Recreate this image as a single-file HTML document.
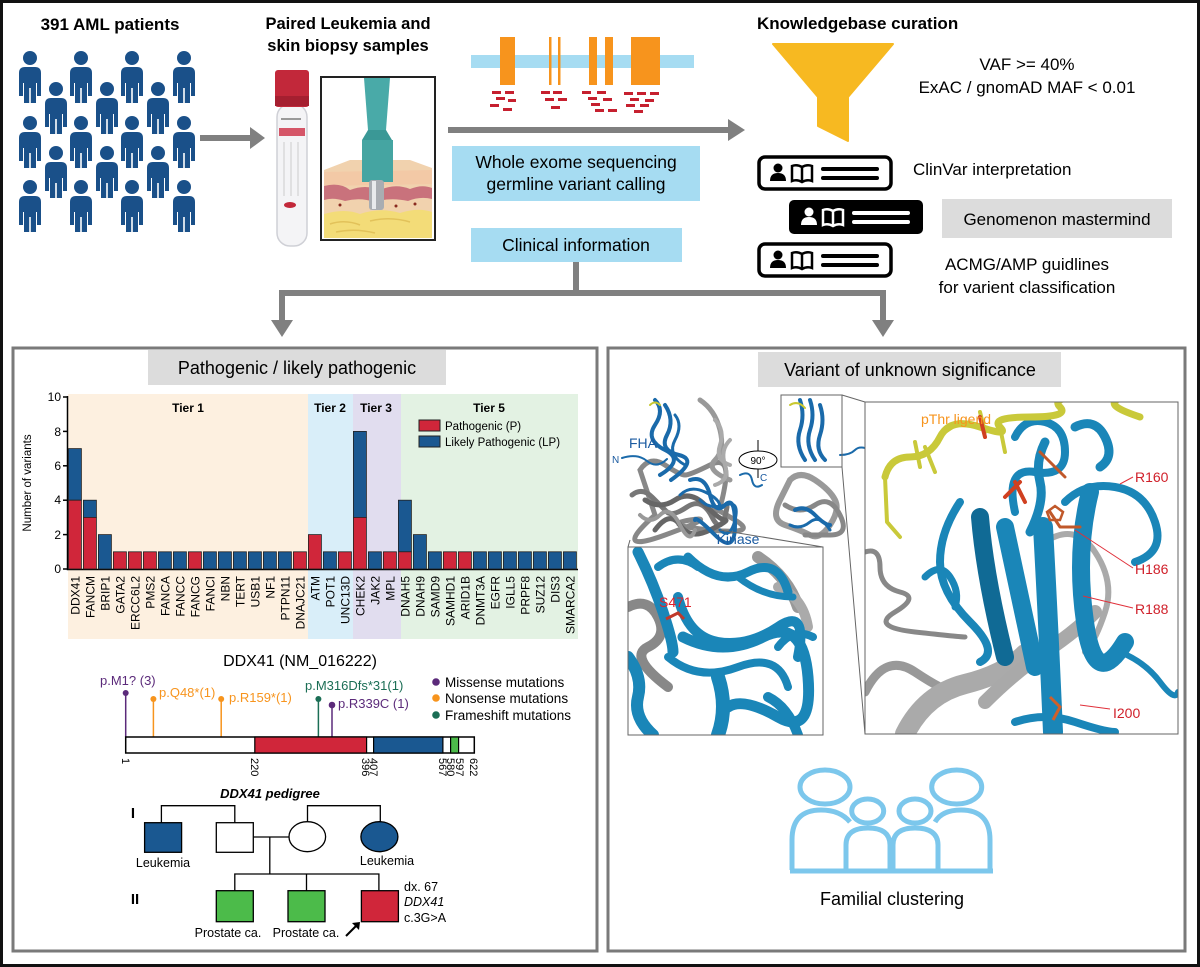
<!DOCTYPE html>
<html><head><meta charset="utf-8"><style>
html,body{margin:0;padding:0;background:#fff}
svg{display:block}
text{font-family:"Liberation Sans",sans-serif}
</style></head><body>
<svg width="1200" height="967" viewBox="0 0 1200 967" xmlns="http://www.w3.org/2000/svg">
<rect x="1.5" y="1.5" width="1197" height="964" fill="#fff" stroke="#111" stroke-width="3"/>

<text x="110" y="30" font-size="17" font-weight="bold" text-anchor="middle">391 AML patients</text>
<defs>
<g id="pp" fill="#1a5089">
<circle cx="0" cy="0" r="7"/>
<path d="M-11,15 Q-11,9 -5,9 L5,9 Q11,9 11,15 L11,38 L7,38 L7,25 L6,25 L6,45 L0.8,45 L0.8,30 L-0.8,30 L-0.8,45 L-6,45 L-6,25 L-7,25 L-7,38 L-11,38 Z"/>
</g>
<g id="card">
<rect x="0" y="0" width="132" height="32" rx="6" fill="#fff" stroke="#000" stroke-width="3.5"/>
<circle cx="19" cy="11" r="4.5" fill="#000"/><path d="M11,24 Q11,16 19,16 Q27,16 27,24 Z" fill="#000"/>
<path d="M33,9 Q38,7 43,10 Q48,7 53,9 L53,24 Q48,22 43,25 Q38,22 33,24 Z M43,10 L43,25" fill="none" stroke="#000" stroke-width="2.5"/>
<rect x="62" y="10" width="58" height="4" rx="2" fill="#000"/><rect x="62" y="19" width="58" height="4" rx="2" fill="#000"/>
</g>
<g id="cardb">
<rect x="0" y="0" width="134" height="34" rx="5" fill="#000"/>
<circle cx="20" cy="12" r="4.5" fill="#fff"/><path d="M12,25 Q12,17 20,17 Q28,17 28,25 Z" fill="#fff"/>
<path d="M34,10 Q39,8 44,11 Q49,8 54,10 L54,25 Q49,23 44,26 Q39,23 34,25 Z M44,11 L44,26" fill="none" stroke="#fff" stroke-width="2.5"/>
<rect x="63" y="11" width="58" height="4" rx="2" fill="#fff"/><rect x="63" y="20" width="58" height="4" rx="2" fill="#fff"/>
</g>
</defs>
<use href="#pp" x="30" y="58"/><use href="#pp" x="30" y="123"/><use href="#pp" x="30" y="187"/>
<use href="#pp" x="81" y="58"/><use href="#pp" x="81" y="123"/><use href="#pp" x="81" y="187"/>
<use href="#pp" x="132" y="58"/><use href="#pp" x="132" y="123"/><use href="#pp" x="132" y="187"/>
<use href="#pp" x="184" y="58"/><use href="#pp" x="184" y="123"/><use href="#pp" x="184" y="187"/>
<use href="#pp" x="56" y="89"/><use href="#pp" x="56" y="153"/>
<use href="#pp" x="107" y="89"/><use href="#pp" x="107" y="153"/>
<use href="#pp" x="158" y="89"/><use href="#pp" x="158" y="153"/>

<path d="M200,138 L252,138" stroke="#808080" stroke-width="6"/>
<path d="M250,127 L265,138 L250,149 Z" fill="#808080"/>

<text x="348" y="29" font-size="16.5" font-weight="bold" text-anchor="middle">Paired Leukemia and</text>
<text x="348" y="51" font-size="16.5" font-weight="bold" text-anchor="middle">skin biopsy samples</text>
<rect x="277" y="104" width="30" height="142" rx="13" fill="#f4f4f6" stroke="#cfd0d6" stroke-width="1.5"/>
<rect x="275" y="70" width="34" height="37" rx="3" fill="#c2283a"/>
<rect x="275" y="96" width="34" height="10" fill="#a51f30"/>
<rect x="279" y="128" width="26" height="8" fill="#cf3a4f" opacity="0.85"/>
<rect x="281" y="118" width="20" height="2" fill="#999"/>
<line x1="284" y1="142" x2="284" y2="196" stroke="#ccc"/>
<line x1="291" y1="142" x2="291" y2="196" stroke="#ccc"/>
<line x1="298" y1="142" x2="298" y2="196" stroke="#ccc"/>
<ellipse cx="290" cy="205" rx="6" ry="3" fill="#c2283a"/>
<rect x="321" y="77" width="114" height="163" fill="#fff" stroke="#222" stroke-width="2"/>
<path d="M324,170 L350,160 L410,160 L432,168 L432,238 L324,238 Z" fill="#f1d2ae"/>
<path d="M324,172 L432,170 L432,184 L324,186 Z" fill="#f3c9a6"/>
<path d="M324,186 Q340,182 350,190 Q365,184 380,190 Q395,183 410,189 Q422,184 432,188 L432,199 Q420,196 408,201 Q390,197 375,202 Q360,197 345,201 Q333,197 324,200 Z" fill="#c9727c"/>
<path d="M324,214 Q345,208 360,214 Q380,207 400,213 Q418,207 432,212 L432,238 L324,238 Z" fill="#f3dc78"/>
<path d="M330,224 Q345,219 360,225 M370,221 Q390,216 410,222 M336,232 Q355,228 375,233" stroke="#e2c25a" fill="none" stroke-width="1.5"/>
<circle cx="340" cy="205" r="1.5" fill="#8a2a20"/><circle cx="396" cy="206" r="1.5" fill="#8a2a20"/><circle cx="415" cy="204" r="1.5" fill="#8a2a20"/>
<path d="M364,78 L390,78 L386,130 L368,130 Z" fill="#49aaa8"/>
<path d="M368,130 L386,130 L392,140 L362,140 Z" fill="#3a9896"/>
<rect x="362" y="140" width="31" height="42" fill="#45a5a2"/>
<rect x="369" y="180" width="15" height="30" rx="3" fill="#a9adb2"/>
<rect x="372" y="181" width="4" height="28" fill="#e8eaec"/>

<rect x="471" y="55" width="223" height="13" fill="#a6dcf2"/>
<g fill="#f7941d">
<rect x="500" y="37" width="15" height="48"/><rect x="549" y="37" width="2.5" height="48"/><rect x="558" y="37" width="2.5" height="48"/>
<rect x="589" y="37" width="8" height="48"/><rect x="605" y="37" width="8" height="48"/><rect x="631" y="37" width="29" height="48"/>
</g>
<g fill="#c6202f">
<rect x="492" y="91" width="9" height="3"/><rect x="505" y="91" width="9" height="3"/><rect x="496" y="97" width="9" height="3"/><rect x="508" y="99" width="8" height="3"/><rect x="490" y="104" width="9" height="3"/><rect x="503" y="108" width="9" height="3"/>
<rect x="541" y="91" width="9" height="3"/><rect x="553" y="91" width="9" height="3"/><rect x="545" y="98" width="9" height="3"/><rect x="558" y="98" width="9" height="3"/><rect x="551" y="106" width="9" height="3"/>
<rect x="582" y="91" width="9" height="3"/><rect x="597" y="91" width="9" height="3"/><rect x="588" y="97" width="9" height="3"/><rect x="603" y="98" width="9" height="3"/><rect x="591" y="103" width="9" height="3"/><rect x="595" y="109" width="9" height="3"/><rect x="608" y="109" width="9" height="3"/>
<rect x="624" y="92" width="9" height="3"/><rect x="637" y="92" width="9" height="3"/><rect x="650" y="92" width="9" height="3"/><rect x="630" y="98" width="9" height="3"/><rect x="645" y="99" width="9" height="3"/><rect x="626" y="104" width="9" height="3"/><rect x="640" y="104" width="9" height="3"/><rect x="634" y="110" width="9" height="3"/>
</g>
<path d="M448,130 L730,130" stroke="#808080" stroke-width="6"/>
<path d="M728,119 L745,130 L728,141 Z" fill="#808080"/>
<rect x="452" y="146" width="248" height="55" fill="#a6dcf2"/>
<text x="576" y="168" font-size="17.5" text-anchor="middle">Whole exome sequencing</text>
<text x="576" y="190" font-size="17.5" text-anchor="middle">germline variant calling</text>
<rect x="471" y="228" width="211" height="34" fill="#a6dcf2"/>
<text x="576" y="251" font-size="17.5" text-anchor="middle">Clinical information</text>

<path d="M576,262 L576,293 M279,293 L886,293 M282,291 L282,322 M883,291 L883,322" stroke="#808080" stroke-width="6" fill="none"/>
<path d="M271,320 L293,320 L282,337 Z" fill="#808080"/>
<path d="M872,320 L894,320 L883,337 Z" fill="#808080"/>

<text x="757" y="29" font-size="17" font-weight="bold">Knowledgebase curation</text>
<path d="M773,44 L893,44 L848,97 L848,141 L818,126 L818,97 Z" fill="#f7b921" stroke="#f7b921" stroke-width="2" stroke-linejoin="round"/>
<text x="1027" y="70" font-size="17" text-anchor="middle">VAF &gt;= 40%</text>
<text x="1027" y="93" font-size="17" text-anchor="middle">ExAC / gnomAD MAF &lt; 0.01</text>
<use href="#card" x="759" y="157"/>
<use href="#cardb" x="789" y="200"/>
<use href="#card" x="759" y="244"/>
<text x="913" y="175" font-size="17">ClinVar interpretation</text>
<rect x="942" y="199" width="230" height="39" fill="#dcdcdc"/>
<text x="1057" y="225" font-size="17" text-anchor="middle">Genomenon mastermind</text>
<text x="1027" y="270" font-size="17" text-anchor="middle">ACMG/AMP guidlines</text>
<text x="1027" y="293" font-size="17" text-anchor="middle">for varient classification</text>

<rect x="13" y="348" width="584" height="603" fill="none" stroke="#7a7a7a" stroke-width="3"/>
<rect x="608" y="348" width="577" height="603" fill="none" stroke="#7a7a7a" stroke-width="3"/>

<rect x="148" y="350" width="298" height="35" fill="#dcdcdc"/>
<text x="297" y="374" font-size="18" text-anchor="middle">Pathogenic / likely pathogenic</text>
<rect x="758" y="352" width="303" height="35" fill="#dcdcdc"/>
<text x="910" y="376" font-size="18" text-anchor="middle">Variant of unknown significance</text>

<rect x="68" y="394" width="240" height="245" fill="#fdf0e0"/>
<rect x="308" y="394" width="45" height="245" fill="#d9eef9"/>
<rect x="353" y="394" width="48" height="245" fill="#e1ddef"/>
<rect x="401" y="394" width="177" height="245" fill="#e3f2e3"/>
<g font-size="12" font-weight="bold" text-anchor="middle">
<text x="188" y="412">Tier 1</text><text x="330" y="412">Tier 2</text><text x="376" y="412">Tier 3</text><text x="489" y="412">Tier 5</text>
</g>
<path d="M67.5,396 L67.5,569.5 L578,569.5" stroke="#000" stroke-width="1.5" fill="none"/>
<g stroke="#000" stroke-width="1.5">
<line x1="63" y1="397" x2="68" y2="397"/><line x1="63" y1="431.4" x2="68" y2="431.4"/><line x1="63" y1="465.8" x2="68" y2="465.8"/><line x1="63" y1="500.2" x2="68" y2="500.2"/><line x1="63" y1="534.6" x2="68" y2="534.6"/><line x1="63" y1="569" x2="68" y2="569"/>
</g>
<g font-size="12" text-anchor="end">
<text x="61" y="401">10</text><text x="61" y="436">8</text><text x="61" y="470">6</text><text x="61" y="504">4</text><text x="61" y="539">2</text><text x="61" y="573">0</text>
</g>
<text transform="translate(31,483) rotate(-90)" font-size="11.5" text-anchor="middle">Number of variants</text>
<rect x="419" y="420" width="21" height="11" fill="#d0263a" stroke="#222"/>
<text x="445" y="430" font-size="11.5">Pathogenic (P)</text>
<rect x="419" y="436" width="21" height="11" fill="#1a5891" stroke="#222"/>
<text x="445" y="446" font-size="11.5">Likely Pathogenic (LP)</text>
<g stroke="#222" stroke-width="0.8">
<g fill="#1a5891">
<rect x="68.4" y="448.6" width="13" height="51.6"/>
<rect x="83.4" y="500.2" width="13" height="17.2"/>
<rect x="98.4" y="534.6" width="13" height="34.4"/>
<rect x="158.4" y="551.8" width="13" height="17.2"/><rect x="173.4" y="551.8" width="13" height="17.2"/>
<rect x="203.4" y="551.8" width="13" height="17.2"/><rect x="218.4" y="551.8" width="13" height="17.2"/><rect x="233.4" y="551.8" width="13" height="17.2"/><rect x="248.4" y="551.8" width="13" height="17.2"/><rect x="263.4" y="551.8" width="13" height="17.2"/><rect x="278.4" y="551.8" width="13" height="17.2"/>
<rect x="323.4" y="551.8" width="13" height="17.2"/>
<rect x="353.4" y="431.4" width="13" height="86"/>
<rect x="368.4" y="551.8" width="13" height="17.2"/>
<rect x="398.4" y="500.2" width="13" height="51.6"/>
<rect x="413.4" y="534.6" width="13" height="34.4"/>
<rect x="428.4" y="551.8" width="13" height="17.2"/>
<rect x="473.4" y="551.8" width="13" height="17.2"/><rect x="488.4" y="551.8" width="13" height="17.2"/><rect x="503.4" y="551.8" width="13" height="17.2"/><rect x="518.4" y="551.8" width="13" height="17.2"/><rect x="533.4" y="551.8" width="13" height="17.2"/><rect x="548.4" y="551.8" width="13" height="17.2"/><rect x="563.4" y="551.8" width="13" height="17.2"/>
</g>
<g fill="#d0263a">
<rect x="68.4" y="500.2" width="13" height="68.8"/>
<rect x="83.4" y="517.4" width="13" height="51.6"/>
<rect x="113.4" y="551.8" width="13" height="17.2"/><rect x="128.4" y="551.8" width="13" height="17.2"/><rect x="143.4" y="551.8" width="13" height="17.2"/>
<rect x="188.4" y="551.8" width="13" height="17.2"/>
<rect x="293.4" y="551.8" width="13" height="17.2"/>
<rect x="308.4" y="534.6" width="13" height="34.4"/>
<rect x="338.4" y="551.8" width="13" height="17.2"/>
<rect x="353.4" y="517.4" width="13" height="51.6"/>
<rect x="383.4" y="551.8" width="13" height="17.2"/>
<rect x="398.4" y="551.8" width="13" height="17.2"/>
<rect x="443.4" y="551.8" width="13" height="17.2"/><rect x="458.4" y="551.8" width="13" height="17.2"/>
</g>
</g>
<g font-size="12" text-anchor="end">
<text transform="translate(79.4,576) rotate(-90)">DDX41</text>
<text transform="translate(94.4,576) rotate(-90)">FANCM</text>
<text transform="translate(109.4,576) rotate(-90)">BRIP1</text>
<text transform="translate(124.4,576) rotate(-90)">GATA2</text>
<text transform="translate(139.4,576) rotate(-90)">ERCC6L2</text>
<text transform="translate(154.4,576) rotate(-90)">PMS2</text>
<text transform="translate(169.4,576) rotate(-90)">FANCA</text>
<text transform="translate(184.4,576) rotate(-90)">FANCC</text>
<text transform="translate(199.4,576) rotate(-90)">FANCG</text>
<text transform="translate(214.4,576) rotate(-90)">FANCI</text>
<text transform="translate(229.4,576) rotate(-90)">NBN</text>
<text transform="translate(244.4,576) rotate(-90)">TERT</text>
<text transform="translate(259.4,576) rotate(-90)">USB1</text>
<text transform="translate(274.4,576) rotate(-90)">NF1</text>
<text transform="translate(289.4,576) rotate(-90)">PTPN11</text>
<text transform="translate(304.4,576) rotate(-90)">DNAJC21</text>
<text transform="translate(319.4,576) rotate(-90)">ATM</text>
<text transform="translate(334.4,576) rotate(-90)">POT1</text>
<text transform="translate(349.4,576) rotate(-90)">UNC13D</text>
<text transform="translate(364.4,576) rotate(-90)">CHEK2</text>
<text transform="translate(379.4,576) rotate(-90)">JAK2</text>
<text transform="translate(394.4,576) rotate(-90)">MPL</text>
<text transform="translate(409.4,576) rotate(-90)">DNAH5</text>
<text transform="translate(424.4,576) rotate(-90)">DNAH9</text>
<text transform="translate(439.4,576) rotate(-90)">SAMD9</text>
<text transform="translate(454.4,576) rotate(-90)">SAMHD1</text>
<text transform="translate(469.4,576) rotate(-90)">ARID1B</text>
<text transform="translate(484.4,576) rotate(-90)">DNMT3A</text>
<text transform="translate(499.4,576) rotate(-90)">EGFR</text>
<text transform="translate(514.4,576) rotate(-90)">IGLL5</text>
<text transform="translate(529.4,576) rotate(-90)">PRPF8</text>
<text transform="translate(544.4,576) rotate(-90)">SUZ12</text>
<text transform="translate(559.4,576) rotate(-90)">DIS3</text>
<text transform="translate(574.4,576) rotate(-90)">SMARCA2</text>
</g>

<text x="300" y="666" font-size="16" text-anchor="middle">DDX41 (NM_016222)</text>
<g stroke-width="1.5">
<line x1="125.7" y1="693" x2="125.7" y2="737" stroke="#5b2a7a"/><circle cx="125.7" cy="693" r="3" fill="#5b2a7a"/>
<line x1="153.4" y1="699" x2="153.4" y2="737" stroke="#f7941d"/><circle cx="153.4" cy="699" r="3" fill="#f7941d"/>
<line x1="221.2" y1="699" x2="221.2" y2="737" stroke="#f7941d"/><circle cx="221.2" cy="699" r="3" fill="#f7941d"/>
<line x1="318.4" y1="699" x2="318.4" y2="737" stroke="#1b6e55"/><circle cx="318.4" cy="699" r="3" fill="#1b6e55"/>
<line x1="332" y1="705" x2="332" y2="737" stroke="#5b2a7a"/><circle cx="332" cy="705" r="3.3" fill="#5b2a7a"/>
</g>
<g font-size="13">
<text x="100" y="685" fill="#5b2a7a">p.M1? (3)</text>
<text x="159" y="697" fill="#f7941d">p.Q48*(1)</text>
<text x="229" y="702" fill="#f7941d">p.R159*(1)</text>
<text x="305" y="690" fill="#1b6e55">p.M316Dfs*31(1)</text>
<text x="338" y="708" fill="#5b2a7a">p.R339C (1)</text>
</g>
<circle cx="436" cy="682" r="3.8" fill="#5b2a7a"/><circle cx="436" cy="698" r="3.8" fill="#f7941d"/><circle cx="436" cy="715" r="3.8" fill="#1b6e55"/>
<g font-size="13.5"><text x="445" y="687">Missense mutations</text><text x="445" y="703">Nonsense mutations</text><text x="445" y="720">Frameshift mutations</text></g>
<rect x="125.7" y="737" width="348.6" height="16" fill="#fff" stroke="#000" stroke-width="1.5"/>
<rect x="254.8" y="737" width="111.8" height="16" fill="#d0263a" stroke="#000" stroke-width="1.2"/>
<rect x="373.6" y="737" width="69.3" height="16" fill="#1a5891" stroke="#000" stroke-width="1.2"/>
<rect x="450.6" y="737" width="8" height="16" fill="#4cbb4a" stroke="#000" stroke-width="1.2"/>
<g font-size="11" >
<text transform="translate(122,758) rotate(90)">1</text>
<text transform="translate(251,758) rotate(90)">220</text>
<text transform="translate(362,758) rotate(90)">396</text>
<text transform="translate(370,758) rotate(90)">407</text>
<text transform="translate(439,758) rotate(90)">567</text>
<text transform="translate(447,758) rotate(90)">580</text>
<text transform="translate(456,758) rotate(90)">597</text>
<text transform="translate(470,758) rotate(90)">622</text>
</g>

<text x="270" y="798" font-size="13" font-weight="bold" font-style="italic" text-anchor="middle">DDX41 pedigree</text>
<text x="133" y="818" font-size="15" font-weight="bold" text-anchor="middle">I</text>
<text x="135" y="904" font-size="15" font-weight="bold" text-anchor="middle">II</text>
<g stroke="#000" stroke-width="1.3" fill="none">
<path d="M161.4,823 L161.4,805.7 L234.8,805.7 L234.8,823"/>
<path d="M307.5,822 L307.5,805.7 L380.3,805.7 L380.3,822"/>
<path d="M253.4,837 L289,837 M269.8,837 L269.8,874 M234.8,891 L234.8,874 L378.9,874 L378.9,891 M306.5,874 L306.5,891"/>
</g>
<rect x="144.6" y="822.7" width="37" height="29.6" fill="#1a5891" stroke="#000" stroke-width="1.3"/>
<rect x="216.3" y="822.7" width="37" height="29.6" fill="#fff" stroke="#000" stroke-width="1.3"/>
<ellipse cx="307.3" cy="836.7" rx="18.3" ry="15" fill="#fff" stroke="#000" stroke-width="1.3"/>
<ellipse cx="379.4" cy="836.7" rx="18.5" ry="15" fill="#1a5891" stroke="#000" stroke-width="1.3"/>
<rect x="216.3" y="890.7" width="37" height="31" fill="#4cbb4a" stroke="#000" stroke-width="1.3"/>
<rect x="288" y="890.7" width="37" height="31" fill="#4cbb4a" stroke="#000" stroke-width="1.3"/>
<rect x="361.4" y="890.7" width="37" height="31" fill="#d0263a" stroke="#000" stroke-width="1.3"/>
<g font-size="12.5" text-anchor="middle">
<text x="163" y="867">Leukemia</text><text x="387" y="865">Leukemia</text>
<text x="228" y="937">Prostate ca.</text><text x="306" y="937">Prostate ca.</text>
</g>
<path d="M346,936 L357,925" stroke="#000" stroke-width="2"/><path d="M352,923 L360,922 L359,930 Z" fill="#000"/>
<g font-size="12.5"><text x="404" y="891">dx. 67</text><text x="404" y="906" font-style="italic">DDX41</text><text x="404" y="922">c.3G&gt;A</text></g>

<!-- overview left (denser) -->
<g fill="none" stroke-linecap="round">
<path d="M640,470 q10,-15 25,-5 t20,10 t25,-10 t15,20 t-10,25 t20,10 t-25,10 t-20,-10 t-25,15 t-10,-20 z" stroke="#888" stroke-width="5"/>
<path d="M632,495 q10,-8 20,2 t15,15 t20,-5 t25,10 t15,-10" stroke="#777" stroke-width="5"/>
<path d="M645,500 q15,10 30,0 t30,5 t20,15 t-15,10 t-30,-5 t-25,5" stroke="#666" stroke-width="5"/>
<path d="M640,515 q10,10 20,0 t20,10 t15,5" stroke="#999" stroke-width="4"/>
<path d="M700,400 q15,10 20,30 t-5,30 t15,20" stroke="#999" stroke-width="5"/>
<path d="M715,420 q10,10 5,25 t10,20" stroke="#aaa" stroke-width="4"/>
<path d="M730,440 q-10,10 -5,25 t-10,20" stroke="#aaa" stroke-width="4"/>
<path d="M655,400 q10,10 0,25 t10,25 t-5,25" stroke="#1a6aaa" stroke-width="4"/>
<path d="M665,405 q10,15 2,30 t12,20 t-8,25" stroke="#1a6aaa" stroke-width="4"/>
<path d="M675,415 q8,10 0,25 t10,25" stroke="#1a6aaa" stroke-width="3"/>
<path d="M690,480 q15,-5 20,15 t15,10 t10,20 t-20,10 t-20,-15" stroke="#1a6aaa" stroke-width="4"/>
<path d="M700,500 q10,10 25,5 t10,15 t-15,10" stroke="#1a6aaa" stroke-width="3"/>
<path d="M680,495 q10,-10 25,-3 t15,15" stroke="#1a6aaa" stroke-width="3"/>
<path d="M622,458 q15,-5 25,3 t20,-2" stroke="#1a6aaa" stroke-width="2"/>
<path d="M740,475 q10,-5 12,5 t10,5" stroke="#1a6aaa" stroke-width="2"/>
<path d="M650,405 q5,-5 10,0" stroke="#c8c830" stroke-width="2"/>
</g>
<text x="629" y="448" font-size="14" fill="#1a5aa0">FHA</text>
<text x="612" y="463" font-size="10" fill="#1a5aa0">N</text>
<text x="760" y="481" font-size="10" fill="#1a5aa0">C</text>
<text x="738" y="544" font-size="14" fill="#1a5aa0" text-anchor="middle">Kinase</text>
<ellipse cx="758" cy="460" rx="19" ry="9" fill="#fff" stroke="#000"/>
<line x1="758" y1="440" x2="758" y2="451" stroke="#000"/><line x1="758" y1="469" x2="758" y2="478" stroke="#000"/>
<text x="758" y="464" font-size="10" text-anchor="middle">90°</text>
<g fill="none" stroke-linecap="round">
<path d="M790,480 q10,-10 25,0 t20,20 t-5,25 t-20,10 t-25,-10 t-5,-25 z" stroke="#999" stroke-width="6"/>
<path d="M785,505 q15,10 30,0 t25,10 t-10,20 t-25,0" stroke="#888" stroke-width="5"/>
<path d="M795,510 q10,-5 20,5 t15,10" stroke="#1a6aaa" stroke-width="4"/>
<path d="M790,525 q10,5 20,-3 t20,8" stroke="#1a6aaa" stroke-width="3"/>
<path d="M800,400 q5,15 0,30 t5,30" stroke="#1a6aaa" stroke-width="4"/>
<path d="M810,400 q5,15 0,30 t5,30" stroke="#1a6aaa" stroke-width="4"/>
<path d="M820,405 q5,15 0,30 t5,25" stroke="#1a6aaa" stroke-width="4"/>
<path d="M790,405 q8,-5 15,3" stroke="#c8c830" stroke-width="2"/>
<path d="M840,455 q10,0 15,-5 t15,0" stroke="#1a6aaa" stroke-width="2"/>
</g>
<rect x="781" y="395" width="61" height="72" fill="none" stroke="#666" stroke-width="1"/>
<path d="M842,395 L865,402 M842,467 L865,734 M630,540 L628,547 M720,530 L823,547" stroke="#666" stroke-width="1"/>

<svg x="628" y="547" width="195" height="188" viewBox="0 0 195 188">
<rect width="195" height="188" fill="#fff"/>
<g fill="none" stroke-linecap="round">
<path d="M0,60 q20,-10 30,10 t-10,30 t20,40" stroke="#888" stroke-width="10"/>
<path d="M130,10 q30,20 40,50" stroke="#999" stroke-width="12"/>
<path d="M150,40 q25,10 30,40" stroke="#aaa" stroke-width="10"/>
<path d="M10,5 q15,30 25,60 t10,40" stroke="#1a86b8" stroke-width="11"/>
<path d="M60,10 q30,30 60,15 t40,20" stroke="#1a86b8" stroke-width="9"/>
<path d="M50,50 q10,40 40,45 t60,-15 t20,30" stroke="#1a86b8" stroke-width="10"/>
<path d="M55,90 q40,20 80,0 t45,40 t-30,40 t-50,-10" stroke="#1a86b8" stroke-width="11"/>
<path d="M40,110 q30,25 70,10 t50,20" stroke="#1a86b8" stroke-width="8"/>
<path d="M0,110 q15,20 10,40 t15,38" stroke="#1a86b8" stroke-width="12"/>
<path d="M90,130 q10,30 0,58" stroke="#1a86b8" stroke-width="14"/>
<path d="M140,150 q20,10 30,38" stroke="#1a86b8" stroke-width="10"/>
<path d="M150,100 q15,-20 35,-10" stroke="#1a86b8" stroke-width="8"/>
<path d="M110,30 q25,20 55,20" stroke="#1a86b8" stroke-width="7"/>
<path d="M30,20 q20,-15 40,0" stroke="#1a86b8" stroke-width="8"/>
</g>
<path d="M38,72 L50,66 L56,72" stroke="#c0392b" stroke-width="3" fill="none"/>
<text x="31" y="60" font-size="14" fill="#e0202a">S471</text>
</svg>
<rect x="628" y="547" width="195" height="188" fill="none" stroke="#666" stroke-width="1"/>

<svg x="865" y="402" width="313" height="332" viewBox="0 0 313 332">
<rect width="313" height="332" fill="#fff"/>
<g fill="none" stroke-linecap="round" stroke-linejoin="round">
<path d="M0,150 q15,-5 15,15 t20,25 t-5,20 t20,20 t50,5" stroke="#888" stroke-width="5"/>
<path d="M0,290 q20,-40 50,-20 t40,20 t40,-20" stroke="#999" stroke-width="9"/>
<path d="M40,332 q20,-40 60,-50 t60,-30" stroke="#aaa" stroke-width="20"/>
<path d="M120,300 q30,-30 60,-50 t50,-40" stroke="#a9a9a9" stroke-width="14"/>
<path d="M180,140 q30,-20 50,10 t10,60 t-20,40" stroke="#aaa" stroke-width="6"/>
<path d="M95,100 q-20,30 -20,60 t30,60 t10,40" stroke="#1a86b8" stroke-width="8"/>
<path d="M115,115 q5,60 25,140" stroke="#106a95" stroke-width="18"/>
<path d="M140,125 q15,70 30,140" stroke="#1a86b8" stroke-width="18"/>
<path d="M165,130 q15,-30 10,-50 t5,-40" stroke="#1a86b8" stroke-width="9"/>
<path d="M178,125 q5,90 10,205" stroke="#1a86b8" stroke-width="20"/>
<path d="M225,90 q-15,60 -5,130 t40,20" stroke="#1a86b8" stroke-width="18"/>
<path d="M200,100 q20,-20 50,-15 t40,35 t-20,40" stroke="#1a86b8" stroke-width="8"/>
<path d="M150,35 q10,-20 30,-15 t20,30 t-30,20 t-20,40" stroke="#1a86b8" stroke-width="8"/>
<path d="M210,25 q20,-10 30,10 t-5,30" stroke="#1a86b8" stroke-width="9"/>
<path d="M60,175 q15,-15 25,0 t5,30" stroke="#1a86b8" stroke-width="7"/>
<path d="M255,250 q25,10 40,30 t18,10" stroke="#1a86b8" stroke-width="6"/>
<path d="M150,320 q30,-10 60,0 t40,10" stroke="#1a86b8" stroke-width="8"/>
<path d="M20,75 q5,-20 25,-20 t30,-20 t40,-10 t20,0 t30,-10 t30,-10 t25,-10 t30,5 t25,15" stroke="#c9c93a" stroke-width="7"/>
<path d="M20,75 L22,120 L35,135 M50,40 L55,65 M60,45 L70,70 M80,30 L95,20 M115,10 L120,30 M135,25 L140,50" stroke="#c9c93a" stroke-width="4"/>
<path d="M115,15 L120,35 M150,80 L160,100 M140,95 L155,80" stroke="#d04020" stroke-width="4"/>
<path d="M175,50 L190,65 L200,75 M185,110 L195,125 L215,125" stroke="#c0582a" stroke-width="3"/>
</g>
<path d="M182,110 l8,-6 l8,6 l-3,8 l-10,0 z" fill="none" stroke="#c0582a" stroke-width="2.5"/>
<path d="M185,295 L195,305 L188,318" stroke="#d0602a" stroke-width="3" fill="none"/>
<g stroke="#e0303a" stroke-width="1">
<line x1="255" y1="82" x2="268" y2="75"/><line x1="210" y1="128" x2="268" y2="166"/><line x1="218" y1="194" x2="268" y2="206"/><line x1="215" y1="303" x2="245" y2="307"/>
</g>
<g font-size="14" fill="#d0202a">
<text x="270" y="80">R160</text><text x="270" y="172">H186</text><text x="270" y="212">R188</text><text x="248" y="316">I200</text>
</g>
<text x="56" y="22" font-size="14" fill="#f7941d">pThr ligend</text>
</svg>
<rect x="865" y="402" width="313" height="332" fill="none" stroke="#666" stroke-width="1"/>

<g fill="none" stroke="#7cc7ec" stroke-width="5">
<ellipse cx="825" cy="787" rx="25" ry="17"/>
<ellipse cx="956.7" cy="787" rx="25" ry="17"/>
<ellipse cx="867.7" cy="811" rx="16" ry="12"/>
<ellipse cx="915" cy="811" rx="16" ry="12"/>
<path d="M792,870 L792,840 Q792,810 821,810 Q840,810 850,822"/>
<path d="M990,870 L990,840 Q990,810 961,810 Q942,810 935,822"/>
<path d="M846,870 L846,845 Q846,828 868,828 Q890,828 890,845 L890,870"/>
<path d="M893,870 L893,845 Q893,828 915,828 Q938,828 938,845 L938,870"/>
<line x1="790" y1="871" x2="993" y2="871"/>
</g>
<text x="892" y="905" font-size="18" text-anchor="middle">Familial clustering</text>
</svg>
</body></html>
